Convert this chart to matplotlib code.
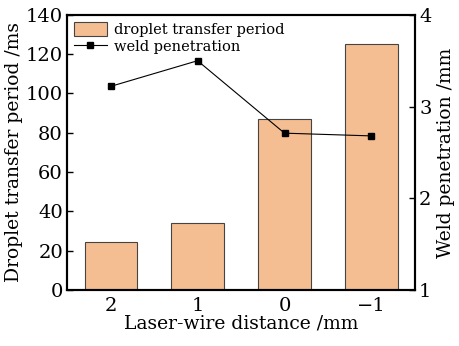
import matplotlib
matplotlib.use("Agg")
import matplotlib.pyplot as plt

categories = ["2", "1", "0", "\u22121"]
droplet_period = [24.5, 34, 87, 125]
weld_penetration = [3.22, 3.50, 2.71, 2.68]

plt.rcParams["font.family"] = "DejaVu Serif"
plt.rcParams["font.size"] = 13.5
plt.rcParams["axes.linewidth"] = 1.5

fig, ax = plt.subplots(figsize=(4.6, 3.46), dpi=100)
fig.subplots_adjust(left=0.146, right=0.902, top=0.957, bottom=0.162)

x = list(range(len(categories)))
bars = ax.bar(x, droplet_period, width=0.6, color="#F5BE92", edgecolor="#444444",
              linewidth=0.8, label="droplet transfer period")
ax.set_xlim(-0.5, 3.5)
ax.set_ylim(0, 140)
ax.set_yticks(range(0, 141, 20))
ax.set_xticks(x)
ax.set_xticklabels(categories)
ax.tick_params(axis="y", direction="in", length=4, width=1, labelsize=14, pad=3)
ax.tick_params(axis="x", length=0, pad=5, labelsize=14)
ax.set_ylabel("Droplet transfer period /ms", labelpad=2)
ax.set_xlabel("Laser-wire distance /mm", labelpad=0)

ax2 = ax.twinx()
line, = ax2.plot(x, weld_penetration, color="black", linewidth=0.8, marker="s",
                 markersize=5, label="weld penetration")
ax2.set_ylim(1, 4)
ax2.set_yticks([1, 2, 3, 4])
ax2.tick_params(axis="y", direction="in", length=4, width=1, labelsize=14, pad=3)
ax2.set_ylabel("Weld penetration /mm", labelpad=4)

ax.legend([bars, line], ["droplet transfer period", "weld penetration"],
          loc="upper left", frameon=False, fontsize=10.5, borderaxespad=0.1,
          handlelength=2.2, handleheight=1.1, handletextpad=0.5, labelspacing=0.1)

fig.savefig("out.png", dpi=100)
